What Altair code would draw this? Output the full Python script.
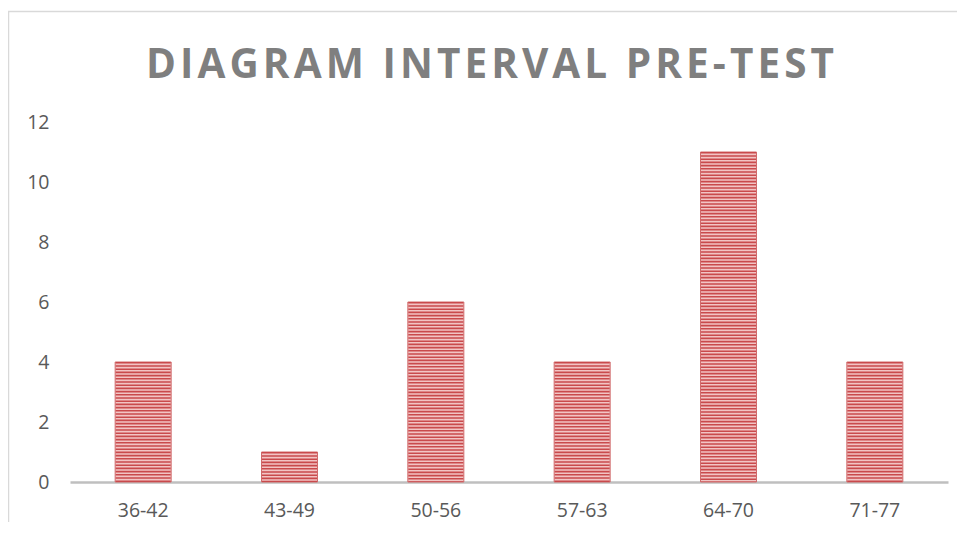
import altair as alt
import pandas as pd

categories = ["36-42", "43-49", "50-56", "57-63", "64-70", "71-77"]
counts = [4, 1, 6, 4, 11, 4]
y_ticks = [0, 2, 4, 6, 8, 10, 12]
title_text = "DIAGRAM INTERVAL PRE-TEST"

df = pd.DataFrame({"interval": categories, "count": counts})

FONT = "Open Sans"
LABEL = "#595959"

# widen the title's letter spacing with hair spaces (Vega has no letterSpacing)
spaced_title = "\u200a".join(title_text)

x_enc = alt.X(
    "interval:N",
    sort=categories,
    scale=alt.Scale(paddingInner=0, paddingOuter=0),
    axis=alt.Axis(
        title=None, labelAngle=0, ticks=False, domainColor="#bfbfbf",
        domainWidth=2.5, labelColor=LABEL, labelFontSize=19.5, labelFont=FONT,
        labelPadding=19, grid=False,
    ),
)
y_enc = alt.Y(
    "count:Q",
    scale=alt.Scale(domain=[0, 12], nice=False),
    axis=alt.Axis(
        title=None, values=y_ticks, domain=False, ticks=False, grid=False,
        labelColor=LABEL, labelFontSize=19.5, labelFont=FONT, labelPadding=21,
    ),
)

base = alt.Chart(df)

bars = base.mark_bar(size=56, color="#f2c4c4", stroke="#d06a6b", strokeWidth=1).encode(
    x=x_enc, y=y_enc
)

stripes = base.mark_rule(
    strokeWidth=55, strokeDash=[1.6, 1.6], strokeCap="butt", color="#c94a4c"
).encode(x=alt.X("interval:N", sort=categories), y="count:Q", y2=alt.datum(0))

frame = alt.Chart(alt.Data(values=[{}])).mark_rect(
    fill=None, stroke="#d9d9d9", strokeWidth=1.5
).encode(
    x=alt.value(-61.5), x2=alt.value(1000), y=alt.value(-110.5), y2=alt.value(600)
)

title = alt.Chart(alt.Data(values=[{}])).mark_text(
    text=spaced_title, font=FONT, fontSize=40.5, fontWeight="bold", color="#7f7f7f",
    align="center", baseline="alphabetic",
).encode(x=alt.value(420), y=alt.value(-44))

chart = alt.layer(frame, bars, stripes, title).properties(
    width=878,
    height=360,
    autosize=alt.AutoSizeParams(type="none"),
    padding={"left": 62, "top": 114, "right": 9, "bottom": 40},
).configure_view(stroke=None)

chart.save("out.html", embed_options={"renderer": "svg", "actions": False})
